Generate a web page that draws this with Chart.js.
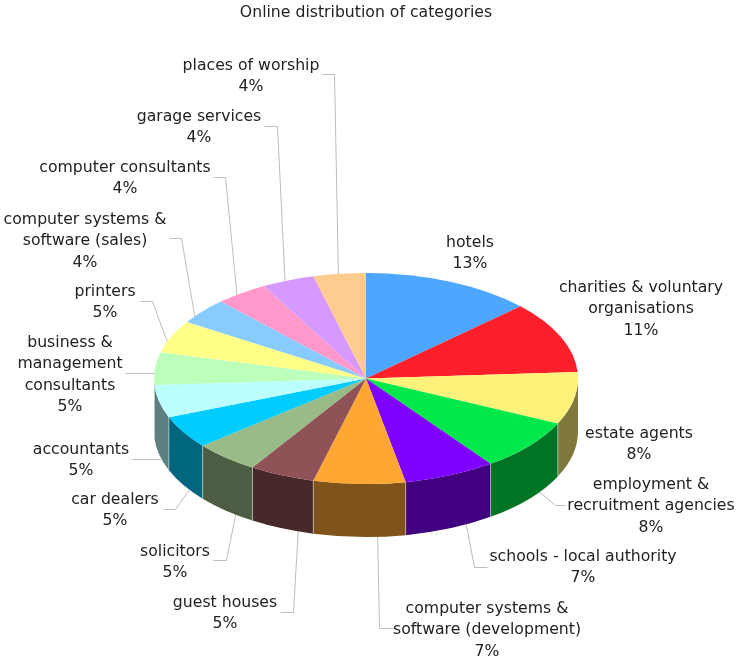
<!DOCTYPE html>
<html>
<head>
<meta charset="utf-8">
<title>Online distribution of categories</title>
<script src="https://cdn.jsdelivr.net/npm/chart.js@4"></script>
<style>
  html, body { margin: 0; background: #fff; }
  canvas { display: block; }
</style>
</head>
<body>
<canvas id="chartPie" width="736" height="659"></canvas>
<script>
// ── Data ──
const chartTitle = 'Online distribution of categories';
const categories = [
  ['hotels'],
  ['charities & voluntary', 'organisations'],
  ['estate agents'],
  ['employment &', 'recruitment agencies'],
  ['schools - local authority'],
  ['computer systems &', 'software (development)'],
  ['guest houses'],
  ['solicitors'],
  ['car dealers'],
  ['accountants'],
  ['business &', 'management', 'consultants'],
  ['printers'],
  ['computer systems &', 'software (sales)'],
  ['computer consultants'],
  ['garage services'],
  ['places of worship'],
];
const shares = [13, 11, 8, 8, 7, 7, 5, 5, 5, 5, 5, 5, 4, 4, 4, 4];

// ── Styling ──
const sliceColors = [
  '#4DA6FF', '#FF1F2B', '#FFF27A', '#00E84A', '#8000FF', '#FFA733', '#8F5257', '#99BB88',
  '#00CCFF', '#BBFFFF', '#BBFFBB', '#FFFF88', '#88CCFF', '#FF99CC', '#D699FF', '#FFCC8F',
];
const FONT       = '15.7px "DejaVu Sans", Verdana, sans-serif';
const TEXT_COLOR = '#222';
const LINE_GAP   = 21.4;
const RX = 212, RY = 105.5, DEPTH = 53;   // tilted disc: screen radii and rim height

// Where each label sits: centre x and baseline of its first line
const labelSpots = [
  [470, 247], [641, 292], [639, 438], [651, 489], [583, 561], [487, 613], [225, 607], [175, 556],
  [115, 504], [81, 454], [70, 347], [105, 296], [85, 224], [125, 172], [199, 121], [251, 70],
];
// Leader lines, pie end first. They are stroked before the pie so the inner end tucks under it.
const leaders = [
  null, null, null,
  [[535, 488], [555, 505], [565, 505]],
  [[465, 520], [474, 567], [487, 567]],
  [[377, 530], [379, 628], [393, 628]],
  [[298, 525], [293, 612], [280, 612]],
  [[236, 510], [226, 560], [213, 560]],
  [[192, 485], [175, 509], [163, 509]],
  [[172, 450], [160, 459], [132, 459]],
  [[160, 373], [125, 373]],
  [[170, 350], [152, 301], [140, 301]],
  [[195, 320], [181, 238], [169, 238]],
  [[237, 300], [225, 177], [213, 177]],
  [[285, 290], [277, 126], [264, 126]],
  [[338, 280], [334, 74], [322, 74]],
];

function darken(hex) {
  const n = parseInt(hex.slice(1), 16);
  return `rgb(${(n >> 16) >> 1},${((n >> 8) & 255) >> 1},${(n & 255) >> 1})`;
}

// ── Tilted pie: rim and leaders underneath, the library's arcs squashed on top ──
const tiltedPie = {
  id: 'tiltedPie',
  beforeDatasetsDraw(chart) {
    const ctx = chart.ctx;
    const arcs = chart.getDatasetMeta(0).data;
    const cx = arcs[0].x, cy = arcs[0].y;

    ctx.save();
    ctx.strokeStyle = '#bdbdbd';
    ctx.lineWidth = 1;
    leaders.forEach(path => {
      if (!path) return;
      ctx.beginPath();
      path.forEach(([x, y], i) => i ? ctx.lineTo(x + .5, y + .5) : ctx.moveTo(x + .5, y + .5));
      ctx.stroke();
    });

    // Rim is only visible on the front half of the disc
    arcs.forEach((arc, i) => {
      const a = Math.max(arc.startAngle, 0);
      const b = Math.min(arc.endAngle, Math.PI);
      if (b <= a) return;
      ctx.beginPath();
      ctx.ellipse(cx, cy, RX, RY, 0, a, b);
      ctx.ellipse(cx, cy + DEPTH, RX, RY, 0, b, a, true);
      ctx.closePath();
      ctx.fillStyle = darken(sliceColors[i]);
      ctx.fill();
    });
    ctx.strokeStyle = 'rgba(255,255,255,.45)';
    arcs.forEach(arc => {
      const t = arc.endAngle;
      if (t <= 0 || t >= Math.PI) return;
      const x = cx + RX * Math.cos(t), y = cy + RY * Math.sin(t);
      ctx.beginPath();
      ctx.moveTo(x, y);
      ctx.lineTo(x, y + DEPTH);
      ctx.stroke();
    });
    ctx.restore();

    ctx.save();
    ctx.translate(cx, cy);
    ctx.scale(1, RY / RX);
    ctx.translate(-cx, -cy);
  },
  afterDatasetsDraw(chart) {
    chart.ctx.restore();
  },
  afterDraw(chart) {
    const ctx = chart.ctx;
    ctx.save();
    ctx.font = FONT;
    ctx.fillStyle = TEXT_COLOR;
    ctx.textAlign = 'center';
    ctx.textBaseline = 'alphabetic';
    ctx.fillText(chartTitle, 366, 17);
    categories.forEach((lines, i) => {
      const [x, y] = labelSpots[i];
      lines.concat(shares[i] + '%').forEach((line, k) => ctx.fillText(line, x, y + k * LINE_GAP));
    });
    ctx.restore();
  }
};

new Chart(document.getElementById('chartPie').getContext('2d'), {
  type: 'pie',
  data: {
    labels: categories.map(c => c.join(' ')),
    datasets: [{ data: shares, backgroundColor: sliceColors, borderWidth: 0, clip: false }]
  },
  options: {
    responsive: false,
    animation: false,
    // Leaves a 424px square centred on (366, 378.5)
    layout: { padding: { left: 154, right: 158, top: 166.5, bottom: 68.5 } },
    plugins: { legend: { display: false }, title: { display: false }, tooltip: { enabled: false } }
  },
  plugins: [tiltedPie]
});
</script>
</body>
</html>
